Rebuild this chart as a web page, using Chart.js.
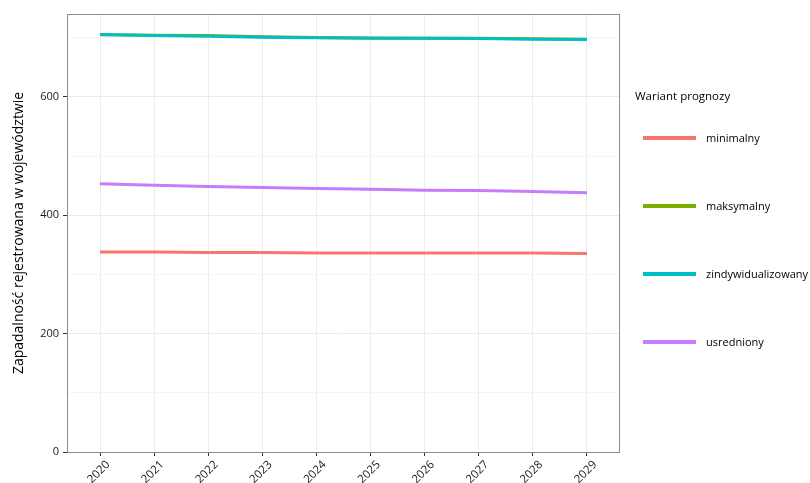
<!DOCTYPE html>
<html>
<head>
<meta charset="utf-8">
<script src="https://cdn.jsdelivr.net/npm/chart.js@4"></script>
<style>
  html, body { margin: 0; padding: 0; background: #fff; }
  #wrap { position: relative; width: 810px; height: 483px; font-family: "Open Sans", "Noto Sans", sans-serif; }
  canvas { position: absolute; left: 0; top: 0; }
  #legend { position: absolute; left: 635px; top: 86px; color: #000; }
  #legend .title { font-size: 11.5px; margin-bottom: 0; height: 20px; line-height: 20px; }
  #legend .item { position: absolute; left: 0; height: 20px; line-height: 20px; font-size: 11px; white-space: nowrap; }
  #legend .swatch { position: absolute; left: 8px; top: 8px; width: 53px; height: 4px; }
  #legend .lab { position: absolute; left: 71px; top: 0; }
</style>
</head>
<body>
<div id="wrap">
  <canvas id="c" width="810" height="483"></canvas>
  <div id="legend"></div>
</div>
<script>
const years = [2020, 2021, 2022, 2023, 2024, 2025, 2026, 2027, 2028, 2029];
const minimalny = [338, 338, 337, 337, 336, 336, 336, 336, 336, 335.5];
const maksymalny = [705, 704, 703.5, 701.5, 700.5, 699.5, 699, 699, 698, 697.5];
const zindywidualizowany = [705.3, 703.6, 702.5, 700.8, 699.7, 699, 699, 698.6, 697.5, 697];
const usredniony = [453, 450.7, 448.4, 446.7, 445, 444, 442.2, 441.6, 440, 438];
const yTicks = [0, 200, 400, 600];

const seriesNames = ["minimalny", "maksymalny", "zindywidualizowany", "usredniony"];
const seriesColors = ["#F8766D", "#7CAE00", "#00BFC4", "#C77CFF"];
const seriesData = [minimalny, maksymalny, zindywidualizowany, usredniony];

const datasets = seriesNames.map((n, i) => ({
  label: n,
  data: years.map((y, j) => ({ x: y, y: seriesData[i][j] })),
  borderColor: seriesColors[i],
  backgroundColor: seriesColors[i],
  borderWidth: 3,
  pointRadius: 0,
  tension: 0,
  fill: false,
  order: seriesNames.length - i
}));

const borderPlugin = {
  id: 'panelBorder',
  afterDraw(chart) {
    const a = chart.chartArea, ctx = chart.ctx;
    ctx.save();
    ctx.strokeStyle = '#8c8c8c';
    ctx.lineWidth = 1;
    ctx.strokeRect(Math.round(a.left) + 0.5, Math.round(a.top) + 0.5, Math.round(a.right - a.left) - 1, Math.round(a.bottom - a.top));
    ctx.restore();
  }
};

const FONT = '"Open Sans", "Noto Sans", sans-serif';

const chart = new Chart(document.getElementById('c'), {
  type: 'line',
  data: { datasets },
  plugins: [borderPlugin],
  options: {
    responsive: false,
    animation: false,
    devicePixelRatio: 1,
    layout: { padding: { top: 14, right: 190, left: 11, bottom: 0 } },
    plugins: { legend: { display: false }, tooltip: { enabled: false } },
    scales: {
      x: {
        type: 'linear',
        min: 2019.39,
        max: 2029.61,
        afterBuildTicks(scale) { scale.ticks = years.map(v => ({ value: v })); },
        afterFit(scale) { scale.height = 31; },
        grid: { color: '#ebebeb', tickColor: '#333', tickLength: 4, lineWidth: 1 },
        border: { display: false },
        ticks: {
          minRotation: 45, maxRotation: 45, autoSkip: false, padding: 2,
          labelOffset: 8,
          color: '#1a1a1a',
          font: { family: FONT, size: 11.5 },
          callback: v => String(v)
        }
      },
      y: {
        type: 'linear',
        min: 0,
        max: 740,
        afterBuildTicks(scale) {
          const t = [];
          for (let v = 0; v <= 700; v += 100) t.push({ value: v });
          scale.ticks = t;
        },
        afterFit(scale) { scale.width = 56; },
        grid: {
          color: ctx => (yTicks.includes(ctx.tick.value) ? '#ebebeb' : '#f5f5f5'),
          tickColor: ctx => (yTicks.includes(ctx.tick.value) ? '#333' : 'rgba(0,0,0,0)'),
          tickLength: 4, lineWidth: 1
        },
        border: { display: false },
        title: {
          display: true,
          text: 'Zapadalność rejestrowana w województwie',
          color: '#000',
          font: { family: FONT, size: 14 },
          padding: { top: 0, bottom: 4 }
        },
        ticks: {
          color: '#1a1a1a', padding: 4,
          font: { family: FONT, size: 11 },
          callback: v => (yTicks.includes(v) ? String(v) : '')
        }
      }
    }
  }
});

// HTML legend built from the datasets
const leg = document.getElementById('legend');
const title = document.createElement('div');
title.className = 'title';
title.textContent = 'Wariant prognozy';
leg.appendChild(title);
seriesNames.forEach((n, i) => {
  const it = document.createElement('div');
  it.className = 'item';
  it.style.top = (42 + i * 68) + 'px';
  const sw = document.createElement('div');
  sw.className = 'swatch';
  sw.style.background = seriesColors[i];
  const lb = document.createElement('div');
  lb.className = 'lab';
  lb.textContent = n;
  it.appendChild(sw); it.appendChild(lb);
  leg.appendChild(it);
});
</script>
</body>
</html>
